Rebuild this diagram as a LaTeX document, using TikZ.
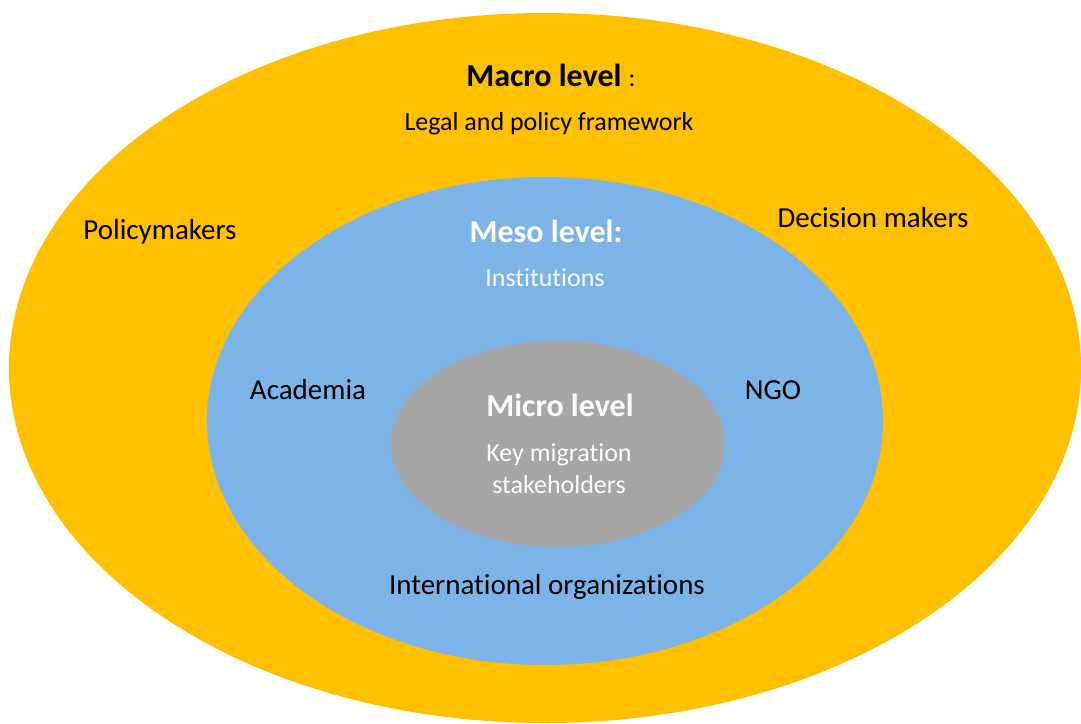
\documentclass[tikz,border=0pt]{standalone}
\usepackage{fontspec}
\setmainfont[Ligatures=NoCommon]{Carlito}
\usepackage{xcolor}
\definecolor{macroorange}{HTML}{FFC000}
\definecolor{mesoblue}{HTML}{7DB4E8}
\definecolor{microgray}{HTML}{A6A6A6}

\begin{document}
\begin{tikzpicture}[x=1pt, y=-1pt,
  level/.style = {font=\fontsize{32}{36}\selectfont\bfseries},
  sub/.style = {font=\fontsize{26}{32}\selectfont},
  actor/.style = {font=\fontsize{29}{34}\selectfont}]
  \useasboundingbox (0,0) rectangle (1081,723);
  \fill[macroorange] (545,368) ellipse [x radius=536, y radius=355];
  \fill[mesoblue] (545,421) ellipse [x radius=338, y radius=244];
  \fill[microgray] (558,444) ellipse [x radius=167, y radius=103];
  \node[level] (macro) at (551,75) {Macro level \fontsize{26}{30}\selectfont\mdseries:};
  \node[sub] (legal) at (549,124) {Legal and policy framework};
  \node[actor] (policy) at (160,232) {Policymakers};
  \node[actor] (decision) at (873,218) {Decision makers};
  \node[level, text=white] (meso) at (546,231) {Meso level:};
  \node[sub, text=white!92!mesoblue] (inst) at (545,278) {Institutions};
  \node[actor] (acad) at (308,390) {Academia};
  \node[actor] (ngo) at (773,390) {NGO};
  \node[level, text=white!95!microgray] (micro) at (560,405) {Micro level};
  \node[sub, text=white!95!microgray, align=center] (key) at (559,469) {Key migration\\stakeholders};
  \node[actor] (intl) at (547,587) {International organizations};
\end{tikzpicture}
\end{document}
